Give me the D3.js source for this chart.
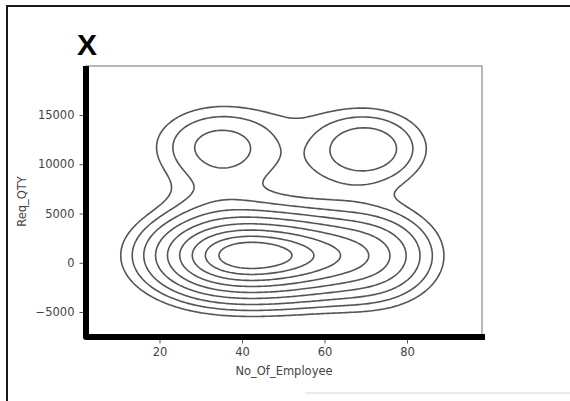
<!DOCTYPE html>
<html>
<head>
<meta charset="utf-8">
<script src="https://cdn.jsdelivr.net/npm/d3@7"></script>
<style>
    body { margin: 0; background: #fff; }
    svg { display: block; font-family: "DejaVu Sans", sans-serif; }
</style>
</head>
<body>
<svg id="chart" width="570" height="401"></svg>
<script>
// kde bumps (No_Of_Employee, Req_QTY)
var compX = [35, 53, 73, 34, 35, 69.9, 54, 53];
var compY = [740, 740, 700, 6800, 11800, 11600, 8500, 15000];
var compSX = [11.5, 13, 9.3, 9, 10.5, 9.3, 9, 8];
var compSY = [2700, 2700, 3000, 2000, 2700, 2550, 2000, 1500];
var compW = [0.654, 0.654, 0.252, 0.05, 0.219, 0.254, 0.03, 0.02];

// contour levels as a share of the peak density
var levels = [0.072, 0.118, 0.183, 0.271, 0.38, 0.507, 0.643, 0.775, 0.887];

var xTicks = [20, 40, 60, 80];
var yTicks = [-5000, 0, 5000, 10000, 15000];
var xDomain = [2.18, 98.18];
var yDomain = [-7538, 19975];

var svg = d3.select("#chart");
var width = 570, height = 401;
var plot = {left: 86, top: 66, right: 482, bottom: 337};

svg.append("rect")
    .attr("width", width)
    .attr("height", height)
    .attr("fill", "#fff");

// frame round the picture (top and left only)
svg.append("path")
    .attr("d", "M7,401 V6 H570")
    .attr("fill", "none")
    .attr("stroke", "#1a1a1a")
    .attr("stroke-width", 2);
svg.append("line")
    .attr("x1", 305).attr("x2", 570)
    .attr("y1", 393).attr("y2", 393)
    .attr("stroke", "#ececec")
    .attr("stroke-width", 2);

var xScale = d3.scaleLinear().domain(xDomain).range([plot.left, plot.right]);
var yScale = d3.scaleLinear().domain(yDomain).range([plot.bottom, plot.top]);

// thin matplotlib box
svg.append("rect")
    .attr("x", plot.left)
    .attr("y", plot.top)
    .attr("width", plot.right - plot.left)
    .attr("height", plot.bottom - plot.top)
    .attr("fill", "none")
    .attr("stroke", "#8a8a8a")
    .attr("stroke-width", 1.2);

// density on a grid
function density(x, y) {
    var s = 0;
    for (var k = 0; k < compX.length; k++) {
        var zx = (x - compX[k]) / compSX[k];
        var zy = (y - compY[k]) / compSY[k];
        s += compW[k] * Math.exp(-0.5 * (zx * zx + zy * zy));
    }
    return s;
}

var step = 2;
var nx = Math.floor((plot.right - plot.left) / step) + 1;
var ny = Math.floor((plot.bottom - plot.top) / step) + 1;
var values = new Array(nx * ny);
for (var j = 0; j < ny; j++) {
    for (var i = 0; i < nx; i++) {
        values[j * nx + i] = density(xScale.invert(plot.left + i * step), yScale.invert(plot.top + j * step));
    }
}
var peak = d3.max(values);

var contours = d3.contours()
    .size([nx, ny])
    .thresholds(levels.map(function (l) { return l * peak; }))(values);

var path = d3.geoPath(d3.geoIdentity()
    .scale(step)
    .translate([plot.left - step / 2, plot.top - step / 2]));

svg.append("g")
    .selectAll("path")
    .data(contours)
    .enter()
    .append("path")
    .attr("d", path)
    .attr("fill", "none")
    .attr("stroke", "#555")
    .attr("stroke-width", 1.6)
    .attr("stroke-linejoin", "round");

// axes
var yAxis = d3.axisLeft(yScale).tickValues(yTicks).tickFormat(d3.format("d")).tickSize(3.5).tickPadding(5);
var gy = svg.append("g")
    .attr("transform", "translate(83,0)")
    .call(yAxis);

var xAxis = d3.axisBottom(xScale).tickValues(xTicks).tickFormat(d3.format("d")).tickSize(3.5).tickPadding(4);
var gx = svg.append("g")
    .attr("transform", "translate(0,340)")
    .call(xAxis);

[gx, gy].forEach(function (g) {
    g.select(".domain").remove();
    g.selectAll("line").attr("stroke", "#555");
    g.selectAll("text")
        .attr("fill", "#444")
        .style("font-size", "11.5px")
        .style("font-family", "DejaVu Sans, sans-serif");
});

// the heavy black axes drawn on top
svg.append("path")
    .attr("d", "M86," + plot.top + " V" + plot.bottom + " H485")
    .attr("fill", "none")
    .attr("stroke", "#000")
    .attr("stroke-width", 6)
    .attr("stroke-linejoin", "round");

// axis labels
svg.append("text")
    .attr("x", (plot.left + plot.right) / 2)
    .attr("y", 375)
    .attr("text-anchor", "middle")
    .attr("fill", "#444")
    .style("font-size", "11.5px")
    .text("No_Of_Employee");

svg.append("text")
    .attr("transform", "translate(26," + ((plot.top + plot.bottom) / 2) + ") rotate(-90)")
    .attr("text-anchor", "middle")
    .attr("fill", "#444")
    .style("font-size", "11.5px")
    .text("Req_QTY");

svg.append("text")
    .attr("x", 77)
    .attr("y", 55)
    .attr("fill", "#000")
    .style("font-family", "Liberation Sans, Arial, sans-serif")
    .style("font-weight", "bold")
    .style("font-size", "30px")
    .text("X");
</script>
</body>
</html>
